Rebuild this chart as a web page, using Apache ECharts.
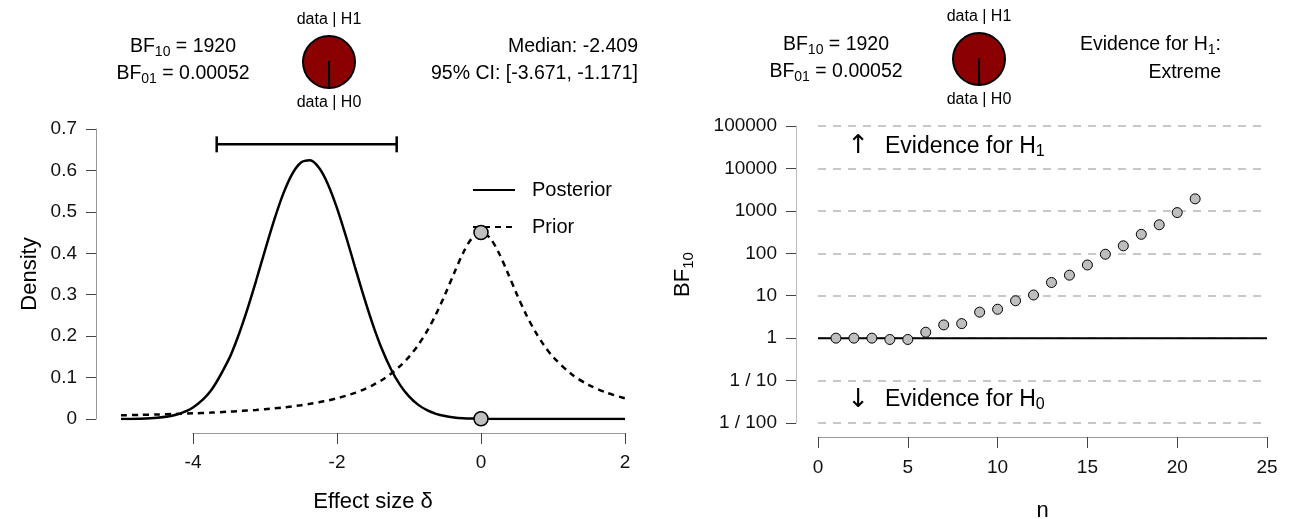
<!DOCTYPE html>
<html><head><meta charset="utf-8">
<script src="https://cdn.jsdelivr.net/npm/echarts/dist/echarts.min.js"></script>
<style>html,body{margin:0;padding:0;background:#fff}#c{width:1292px;height:519px}</style>
</head><body><div id="c"></div>
<script>
// ---------- left panel: prior & posterior densities ----------
const effectSize = [-5, -4.75, -4.5, -4.25, -4, -3.75, -3.5, -3.375, -3.25, -3.125, -3, -2.875, -2.75, -2.625, -2.5, -2.375, -2.25, -2.125, -2, -1.875, -1.75, -1.625, -1.5, -1.375, -1.25, -1.125, -1, -0.875, -0.75, -0.625, -0.5, -0.375, -0.25, -0.125, 0, 0.125, 0.25, 0.375, 0.5, 0.625, 0.75, 0.875, 1, 1.25, 1.5, 1.75, 2];
const posteriorDensity = [0.0002, 0.0007, 0.0029, 0.0097, 0.0279, 0.0687, 0.1450, 0.1988, 0.2623, 0.3331, 0.4072, 0.4789, 0.5421, 0.5905, 0.6190, 0.6244, 0.6062, 0.5663, 0.5091, 0.4405, 0.3668, 0.2939, 0.2266, 0.1682, 0.1201, 0.0825, 0.0546, 0.0347, 0.0213, 0.0125, 0.0071, 0.0039, 0.0020, 0.0010, 0.0005, 0.0002, 0.0001, 0.0001, 0, 0, 0, 0, 0, 0, 0, 0, 0];
const priorDensity = [0.0088, 0.0098, 0.0108, 0.0121, 0.0136, 0.0155, 0.0177, 0.0189, 0.0204, 0.0219, 0.0237, 0.0257, 0.0279, 0.0305, 0.0334, 0.0367, 0.0405, 0.0449, 0.0500, 0.0561, 0.0632, 0.0717, 0.0819, 0.0942, 0.1091, 0.1275, 0.1501, 0.1779, 0.2119, 0.2527, 0.3001, 0.3514, 0.4002, 0.4366, 0.4502, 0.4366, 0.4002, 0.3514, 0.3001, 0.2527, 0.2119, 0.1779, 0.1501, 0.1091, 0.0819, 0.0632, 0.0500];
const testValue = 0;
const densitiesAtTestValue = [0.4502, 0.0005];   // prior, posterior at delta = 0
const posteriorMedian = -2.409;
const ciLower = -3.671;
const ciUpper = -1.171;
const ciBarHeight = 0.663;
const legendNames = ['Posterior', 'Prior'];

// ---------- right panel: sequential analysis ----------
const nObs = [1, 2, 3, 4, 5, 6, 7, 8, 9, 10, 11, 12, 13, 14, 15, 16, 17, 18, 19, 20, 21];
const bfSequential = [1.0, 1.0, 1.0, 0.93, 0.93, 1.38, 2.05, 2.2, 4.1, 4.8, 7.6, 10.4, 20.5, 30.5, 53, 95, 150, 280, 470, 910, 1920];
const bf10 = 1920;
const bf01 = 0.00052;
const evidenceLabel = 'Extreme';

const FONT = '"Liberation Sans", Arial, sans-serif';
const SUB = (fs) => ({ fontSize: fs, verticalAlign: 'bottom', lineHeight: fs, fontFamily: FONT, fill: '#000', color: '#000' });

const chart = echarts.init(document.getElementById('c'), null, { renderer: 'canvas' });

function txt(text, x, y, align, fs, subFs) {
  return {
    type: 'text', x: x, y: y, silent: true,
    style: {
      text: text, fill: '#000', font: fs + 'px ' + FONT, fontSize: fs, fontFamily: FONT,
      align: align, verticalAlign: 'middle', lineHeight: fs + 4,
      rich: { sub: SUB(subFs || 14) }
    }
  };
}

function pie(cx, cy) {
  return {
    type: 'pie', center: [cx, cy], radius: 26, startAngle: 270, clockwise: true,
    silent: true, animation: false, label: { show: false }, labelLine: { show: false },
    itemStyle: { borderColor: '#000', borderWidth: 2 },
    data: [
      { value: bf10, name: 'data | H1', itemStyle: { color: '#8B0000' } },
      { value: 1, name: 'data | H0', itemStyle: { color: '#ffffff' } }
    ]
  };
}

const axisLineStyle = { color: '#999', width: 1 };
const tickStyle = { color: '#444', width: 1 };
const labelStyle = { color: '#111', fontSize: 19, fontFamily: FONT };
const TFS = 19.5;

const option = {
  backgroundColor: '#fff',
  animation: false,
  textStyle: { fontFamily: FONT },
  grid: [
    { left: 121, top: 129, width: 504, height: 290, outerBoundsMode: 'none', containLabel: false },
    { left: 193, top: 129, width: 432, height: 290, outerBoundsMode: 'none', containLabel: false },
    { left: 818, top: 126, width: 449, height: 297, outerBoundsMode: 'none', containLabel: false }
  ],
  legend: {
    data: legendNames, orient: 'vertical', left: 472, top: 180, itemWidth: 42, itemHeight: 20,
    itemGap: 17, padding: 0, selectedMode: false,
    itemStyle: { opacity: 0 },
    textStyle: { fontSize: 20, color: '#000', fontFamily: FONT, padding: [0, 0, 0, 12], lineHeight: 20 }
  },
  xAxis: [
    { gridIndex: 0, type: 'value', min: -5, max: 2, axisLine: { show: false, onZero: false }, axisTick: { show: false },
      axisLabel: { show: false }, splitLine: { show: false },
      name: 'Effect size δ', nameLocation: 'middle', nameGap: 72,
      nameTextStyle: { fontSize: 22, color: '#000', fontFamily: FONT } },
    { gridIndex: 1, type: 'value', min: -4, max: 2, interval: 2, offset: 14,
      axisLine: { onZero: false, lineStyle: axisLineStyle }, axisTick: { length: 11, lineStyle: tickStyle },
      axisLabel: Object.assign({ margin: 20 }, labelStyle), splitLine: { show: false } },
    { gridIndex: 2, type: 'value', min: 0, max: 25, interval: 5, offset: 14,
      axisLine: { onZero: false, lineStyle: axisLineStyle }, axisTick: { length: 11, lineStyle: tickStyle },
      axisLabel: Object.assign({ margin: 21 }, labelStyle), splitLine: { show: false },
      name: 'n', nameLocation: 'middle', nameGap: 63,
      nameTextStyle: { fontSize: 22, color: '#000', fontFamily: FONT } }
  ],
  yAxis: [
    { gridIndex: 0, type: 'value', min: 0, max: 0.7, interval: 0.1, offset: 25,
      axisLine: { show: true, onZero: false, lineStyle: axisLineStyle }, axisTick: { show: true, length: 10, lineStyle: tickStyle },
      axisLabel: Object.assign({ margin: 19, formatter: v => String(parseFloat(v.toFixed(1))) }, labelStyle),
      splitLine: { show: false },
      name: 'Density', nameLocation: 'middle', nameRotate: 90, nameGap: 55,
      nameTextStyle: { fontSize: 22, color: '#000', fontFamily: FONT } },
    { gridIndex: 1, type: 'value', min: 0, max: 0.7, show: false },
    { gridIndex: 2, type: 'log', logBase: 10, min: 0.01, max: 100000, splitNumber: 7, offset: 22,
      axisLine: { show: true, onZero: false, lineStyle: { color: '#bbb', width: 1 } },
      axisTick: { show: true, length: 10, lineStyle: tickStyle },
      axisLabel: Object.assign({ margin: 19, formatter: v => v >= 1 ? String(Math.round(v)) : '1 / ' + Math.round(1 / v) }, labelStyle),
      splitLine: { show: true, lineStyle: { color: '#c8c8c8', width: 2, type: [8, 7] } },
      name: 'BF{sub|10}', nameLocation: 'middle', nameRotate: 90, nameGap: 100,
      nameTextStyle: { fontSize: 22, color: '#000', fontFamily: FONT, lineHeight: 26,
        rich: { sub: { fontSize: 15, verticalAlign: 'bottom', lineHeight: 15, color: '#000', fontFamily: FONT } } } }
  ],
  series: [
    { name: 'Prior', type: 'line', xAxisIndex: 0, yAxisIndex: 0, symbol: 'none', smooth: 0.3,
      lineStyle: { color: '#000', width: 2.5, type: [6, 5] }, itemStyle: { color: '#000' },
      data: effectSize.map((x, i) => [x, priorDensity[i]]), z: 2 },
    { name: 'Posterior', type: 'line', xAxisIndex: 0, yAxisIndex: 0, symbol: 'none', smooth: 0.3,
      lineStyle: { color: '#000', width: 2.5 }, itemStyle: { color: '#000' },
      data: effectSize.map((x, i) => [x, posteriorDensity[i]]), z: 3 },
    { type: 'line', xAxisIndex: 0, yAxisIndex: 0, symbol: 'none', silent: true,
      lineStyle: { color: '#000', width: 2.5 },
      data: [[ciLower, ciBarHeight], [ciUpper, ciBarHeight]], z: 3 },
    { type: 'scatter', xAxisIndex: 0, yAxisIndex: 0, symbol: 'rect', symbolSize: [2.5, 16], silent: true,
      itemStyle: { color: '#000', opacity: 1 }, data: [[ciLower, ciBarHeight], [ciUpper, ciBarHeight]], z: 3 },
    { type: 'scatter', xAxisIndex: 0, yAxisIndex: 0, symbol: 'circle', symbolSize: 14, silent: true,
      itemStyle: { color: '#c0c0c0', borderColor: '#000', borderWidth: 1.5, opacity: 1 },
      data: densitiesAtTestValue.map(d => [testValue, d]), z: 5 },
    // right panel
    { type: 'line', xAxisIndex: 2, yAxisIndex: 2, symbol: 'none', silent: true,
      lineStyle: { color: '#000', width: 2 }, data: [[0, 1], [25, 1]], z: 3 },
    { type: 'scatter', xAxisIndex: 2, yAxisIndex: 2, symbol: 'circle', symbolSize: 10, silent: true,
      itemStyle: { color: '#bebebe', borderColor: '#000', borderWidth: 1, opacity: 1 },
      data: nObs.map((n, i) => [n, bfSequential[i]]), z: 5 },
    { type: 'scatter', xAxisIndex: 2, yAxisIndex: 2, symbolSize: 0, silent: true, itemStyle: { opacity: 1 },
      label: { show: true, position: 'inside', fontSize: 26, color: '#000', fontFamily: '"DejaVu Sans", sans-serif', formatter: p => p.data[2] },
      data: [[2.23, 33000, '↑'], [2.23, 0.0353, '↓']], z: 6 },
    { type: 'scatter', xAxisIndex: 2, yAxisIndex: 2, symbolSize: 0, silent: true, itemStyle: { opacity: 1 },
      label: { show: true, position: 'right', distance: 0, fontSize: 23, lineHeight: 26, color: '#000', fontFamily: FONT,
        formatter: p => 'Evidence for H{sub|' + p.data[2] + '}',
        rich: { sub: { fontSize: 16, verticalAlign: 'bottom', lineHeight: 15, color: '#000', fontFamily: FONT } } },
      data: [[3.73, 33000, '1'], [3.73, 0.0353, '0']], z: 6 },
    pie(329, 62),
    pie(979, 59)
  ],
  graphic: [
    txt('BF{sub|10} = ' + bf10, 183, 47, 'center', TFS),
    txt('BF{sub|01} = ' + bf01.toFixed(5), 183, 74, 'center', TFS),
    txt('data | H1', 329, 20, 'center', 16),
    txt('data | H0', 329, 103, 'center', 16),
    txt('Median: ' + posteriorMedian.toFixed(3), 638, 47, 'right', TFS),
    txt('95% CI: [' + ciLower.toFixed(3) + ', ' + ciUpper.toFixed(3) + ']', 638, 74, 'right', TFS),
    txt('BF{sub|10} = ' + bf10, 836, 45, 'center', TFS),
    txt('BF{sub|01} = ' + bf01.toFixed(5), 836, 72, 'center', TFS),
    txt('data | H1', 979, 17, 'center', 16),
    txt('data | H0', 979, 100, 'center', 16),
    txt('Evidence for H{sub|1}:', 1221, 45, 'right', TFS),
    txt(evidenceLabel, 1221, 73, 'right', TFS)
  ]
};
chart.setOption(option);
</script>
</body></html>
